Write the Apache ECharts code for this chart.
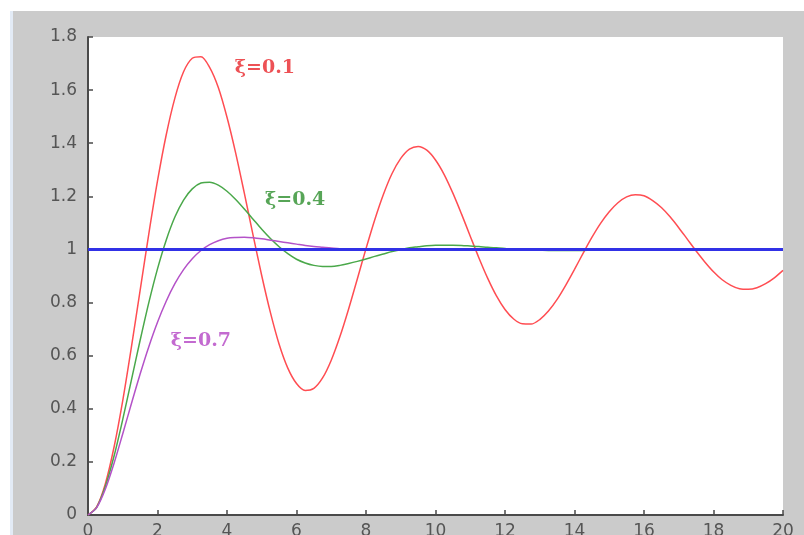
<!DOCTYPE html>
<html>
<head>
<meta charset="utf-8">
<script src="https://cdn.jsdelivr.net/npm/echarts@6/dist/echarts.min.js"></script>
<style>
  html, body { margin: 0; padding: 0; background: #ffffff; }
  #chart { width: 804px; height: 535px; }
</style>
</head>
<body>
<div id="chart"></div>
<script>
// Time samples (s)
const times = [
  0, 0.25, 0.5, 0.75, 1, 1.25, 1.5, 1.75, 2, 2.25, 2.5, 2.75, 3, 3.25, 3.5, 3.75, 4, 4.25, 4.5, 4.75,
  5, 5.25, 5.5, 5.75, 6, 6.25, 6.5, 6.75, 7, 7.25, 7.5, 7.75, 8, 8.25, 8.5, 8.75, 9, 9.25, 9.5, 9.75,
  10, 10.25, 10.5, 10.75, 11, 11.25, 11.5, 11.75, 12, 12.25, 12.5, 12.75, 13, 13.25, 13.5, 13.75,
  14, 14.25, 14.5, 14.75, 15, 15.25, 15.5, 15.75, 16, 16.25, 16.5, 16.75, 17, 17.25, 17.5, 17.75,
  18, 18.25, 18.5, 18.75, 19, 19.25, 19.5, 19.75, 20];

// Step response, damping 0.1
const resp01 = [
  0, 0.031, 0.118, 0.256, 0.431, 0.633, 0.846, 1.059, 1.258, 1.431, 1.570, 1.669, 1.720, 1.726,
  1.686, 1.610, 1.498, 1.363, 1.211, 1.054, 0.901, 0.762, 0.643, 0.553, 0.495, 0.469, 0.477, 0.516,
  0.583, 0.672, 0.776, 0.889, 1.003, 1.111, 1.207, 1.286, 1.343, 1.378, 1.388, 1.374, 1.337,
  1.282, 1.212, 1.133, 1.050, 0.968, 0.892, 0.826, 0.774, 0.738, 0.720, 0.719, 0.736, 0.768, 0.812,
  0.866, 0.925, 0.986, 1.045, 1.098, 1.142, 1.176, 1.198, 1.206, 1.202, 1.184, 1.158, 1.123, 1.082,
  1.038, 0.994, 0.953, 0.916, 0.886, 0.865, 0.852, 0.850, 0.856, 0.871, 0.893, 0.921];

// Step response, damping 0.4
const resp04 = [
  0, 0.029, 0.108, 0.222, 0.360, 0.509, 0.658, 0.800, 0.927, 1.035, 1.122, 1.186, 1.228, 1.250,
  1.253, 1.242, 1.219, 1.188, 1.152, 1.114, 1.076, 1.041, 1.010, 0.984, 0.963, 0.949, 0.940, 0.936,
  0.936, 0.940, 0.947, 0.955, 0.964, 0.974, 0.983, 0.992, 0.999, 1.006, 1.010, 1.014, 1.016,
  1.016, 1.016, 1.015, 1.013, 1.011, 1.008, 1.006, 1.004, 1.001, 1.000, 0.998, 0.997, 0.996, 0.996,
  0.996, 0.996, 0.996, 0.997, 0.997, 0.998, 0.999, 0.999, 1.000, 1.000, 1.000, 1.001, 1.001, 1.001,
  1.001, 1.001, 1.001, 1.001, 1.000, 1.000, 1.000, 1.000, 1.000, 1.000, 1.000, 1.000];

// Step response, damping 0.7
const resp07 = [
  0, 0.028, 0.098, 0.195, 0.306, 0.420, 0.531, 0.634, 0.726, 0.805, 0.871, 0.924, 0.965, 0.996,
  1.018, 1.033, 1.042, 1.045, 1.046, 1.044, 1.040, 1.035, 1.030, 1.025, 1.020, 1.015, 1.011, 1.008,
  1.005, 1.003, 1.001, 1.000, 0.999, 0.998, 0.998, 0.998, 0.998, 0.999, 0.999, 0.999, 0.999,
  1.000, 1.000, 1.000, 1.000, 1.000, 1.000, 1.000, 1.000, 1.000, 1.000, 1.000, 1.000, 1.000, 1.000,
  1.000, 1.000, 1.000, 1.000, 1.000, 1.000, 1.000, 1.000, 1.000, 1.000, 1.000, 1.000, 1.000, 1.000,
  1.000, 1.000, 1.000, 1.000, 1.000, 1.000, 1.000, 1.000, 1.000, 1.000, 1.000, 1.000];

// Unit reference level
const refTimes = [0, 20];
const refLevel = [1, 1];

// Axis ticks
const xTicks = [0, 2, 4, 6, 8, 10, 12, 14, 16, 18, 20];
const yTicks = [0, 0.2, 0.4, 0.6, 0.8, 1, 1.2, 1.4, 1.6, 1.8];

// Curve labels (anchored in data coordinates)
const curveLabels = [
  { text: 'ξ=0.1', t: 5.09, v: 1.683, color: '#e8262a' },
  { text: 'ξ=0.4', t: 5.96, v: 1.186, color: '#2d8f2d' },
  { text: 'ξ=0.7', t: 3.25, v: 0.655, color: '#b445c4' }
];

const zip = (xs, ys) => xs.map((x, i) => [x, ys[i]]);

const chart = echarts.init(document.getElementById('chart'));

const labelFont = '"DejaVu Serif", "Liberation Serif", serif';
const tickFont = '"DejaVu Sans", Verdana, sans-serif';

chart.setOption({
  animation: false,
  backgroundColor: '#ffffff',
  graphic: [
    { type: 'rect', left: 13, top: 11, shape: { width: 791, height: 524 },
      style: { fill: '#cbcbcb' }, z: -10 },
    { type: 'rect', left: 10, top: 11, shape: { width: 3, height: 524 },
      style: { fill: '#e3ebf6' }, z: -10 }
  ],
  grid: {
    left: 88, right: 21, top: 37, bottom: 20,
    containLabel: false, outerBoundsMode: 'none',
    show: true, backgroundColor: '#ffffff', borderWidth: 0
  },
  xAxis: {
    type: 'value', min: 0, max: 20, interval: 2,
    axisLine: { show: true, onZero: false, lineStyle: { color: '#4a4a4a', width: 2 } },
    axisTick: { show: true, inside: true, length: 5, lineStyle: { color: '#4a4a4a', width: 1.5 } },
    axisLabel: { color: '#555555', fontSize: 17, fontFamily: tickFont, margin: 8,
      formatter: v => xTicks.includes(v) ? String(v) : '' },
    splitLine: { show: false }
  },
  yAxis: {
    type: 'value', min: 0, max: 1.8, interval: 0.2,
    axisLine: { show: true, onZero: false, lineStyle: { color: '#4a4a4a', width: 2 } },
    axisTick: { show: true, inside: true, length: 5, lineStyle: { color: '#4a4a4a', width: 1.5 } },
    axisLabel: { color: '#555555', fontSize: 17, fontFamily: tickFont, margin: 11,
      formatter: v => {
        const hit = yTicks.find(t => Math.abs(t - v) < 1e-6);
        return hit === undefined ? '' : String(Math.round(hit * 10) / 10);
      } },
    splitLine: { show: false }
  },
  series: [
    { type: 'line', data: zip(times, resp01), smooth: 0.3, symbol: 'none',
      lineStyle: { color: '#ff4d52', width: 1.5 }, z: 3 },
    { type: 'line', data: zip(times, resp04), smooth: 0.3, symbol: 'none',
      lineStyle: { color: '#4aa84a', width: 1.5 }, z: 3 },
    { type: 'line', data: zip(times, resp07), smooth: 0.3, symbol: 'none',
      lineStyle: { color: '#b452c8', width: 1.5 }, z: 3 },
    { type: 'line', data: zip(refTimes, refLevel), symbol: 'none',
      lineStyle: { color: '#3131e6', width: 3 }, z: 4 },
    { type: 'scatter', symbolSize: 0, z: 5, silent: true,
      data: curveLabels.map(l => ({
        value: [l.t, l.v],
        label: { show: true, position: 'inside', formatter: l.text, color: l.color,
          fontSize: 19, fontWeight: 'bold', fontFamily: labelFont }
      })) }
  ]
});
</script>
</body>
</html>
